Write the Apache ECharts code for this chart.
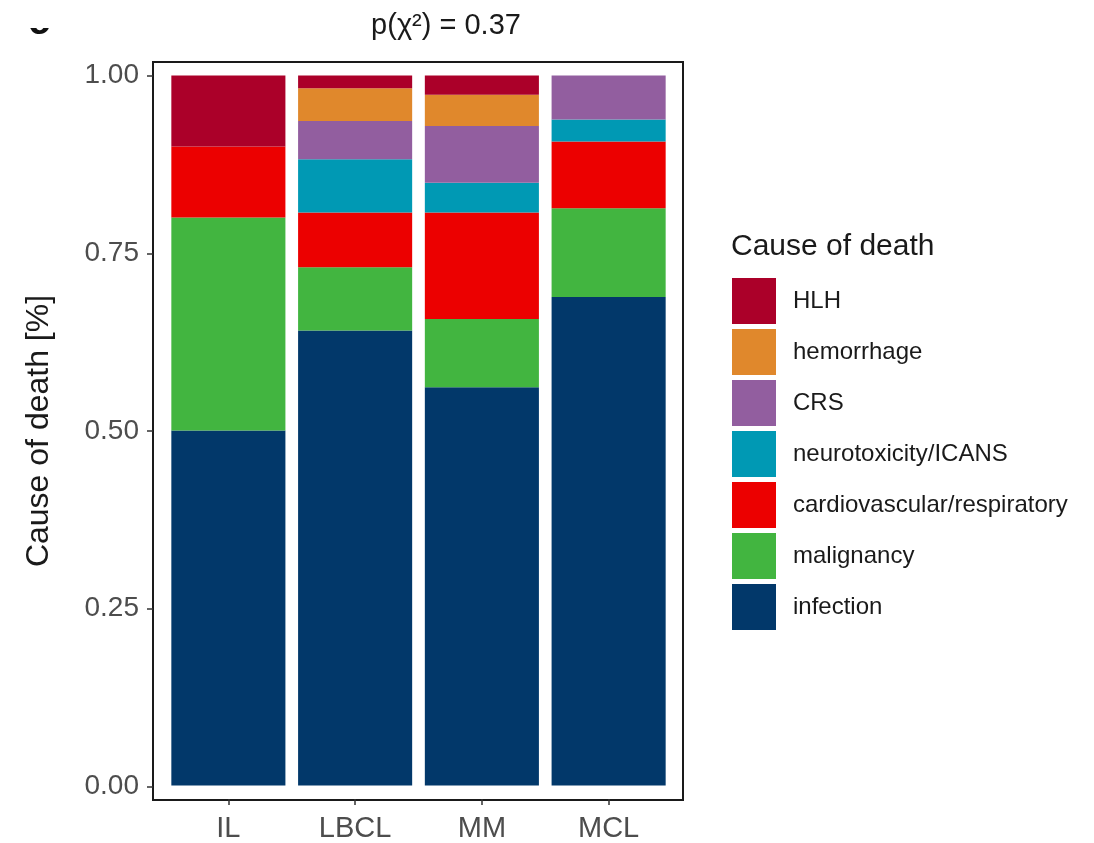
<!DOCTYPE html>
<html>
<head>
<meta charset="utf-8">
<script src="https://cdn.jsdelivr.net/npm/echarts@6/dist/echarts.min.js"></script>
<style>
html,body{margin:0;padding:0;background:#fff;}
#chart{width:1094px;height:843px;}
</style>
</head>
<body>
<div id="chart"></div>
<script>
// ---- data ----
var categories = ['IL', 'LBCL', 'MM', 'MCL'];
var causes = ['infection', 'malignancy', 'cardiovascular/respiratory', 'neurotoxicity/ICANS', 'CRS', 'hemorrhage', 'HLH'];
var legendOrder = ['HLH', 'hemorrhage', 'CRS', 'neurotoxicity/ICANS', 'cardiovascular/respiratory', 'malignancy', 'infection'];
var infection   = [0.500, 0.641, 0.561, 0.688];
var malignancy  = [0.300, 0.089, 0.096, 0.125];
var cardio      = [0.100, 0.077, 0.150, 0.094];
var neuro       = [0.000, 0.075, 0.042, 0.031];
var crs         = [0.000, 0.054, 0.080, 0.062];
var hemorrhage  = [0.000, 0.046, 0.044, 0.000];
var hlh         = [0.100, 0.018, 0.027, 0.000];
var yTicks = [0, 0.25, 0.5, 0.75, 1];
var titleText = 'p(\u03C7\u00B2) = 0.37';

var seriesValues = [infection, malignancy, cardio, neuro, crs, hemorrhage, hlh];
var colors = ['#02386A', '#42B540', '#EC0000', '#0099B4', '#925E9F', '#E0882C', '#AB0029'];

var FONT = '"Liberation Sans", Arial, Helvetica, sans-serif';
var Y_MIN = -0.019, Y_MAX = 1.019;

var series = causes.map(function (name, i) {
  return {
    name: name,
    type: 'bar',
    stack: 'total',
    xAxisIndex: 1,
    yAxisIndex: 1,
    barWidth: '90%',
    itemStyle: { color: colors[i] },
    emphasis: { disabled: true },
    data: seriesValues[i]
  };
});

var chart = echarts.init(document.getElementById('chart'), null, { renderer: 'canvas' });
chart.setOption({
  animation: false,
  backgroundColor: '#ffffff',
  textStyle: { fontFamily: FONT },
  grid: [
    { // panel frame
      left: 153, right: 411, top: 62, bottom: 43,
      show: true, borderColor: '#1a1a1a', borderWidth: 2, backgroundColor: 'transparent'
    },
    { // data area (ggplot-style 0.6 expansion on a discrete axis)
      left: 165, right: 422, top: 62, bottom: 43
    }
  ],
  xAxis: [
    {
      gridIndex: 0, type: 'value', min: 0, max: 1,
      splitLine: { show: false },
      axisLine: { show: true, onZero: false, lineStyle: { color: '#1a1a1a', width: 2 } },
      axisTick: { show: false }, axisLabel: { show: false }
    },
    {
      gridIndex: 1, type: 'category', data: categories,
      axisLine: { show: false, onZero: false },
      splitLine: { show: false },
      axisTick: { show: true, alignWithLabel: true, length: 6, lineStyle: { color: '#333', width: 1.5 } },
      axisLabel: { margin: 15, fontSize: 29, color: '#4d4d4d', fontFamily: FONT }
    }
  ],
  yAxis: [
    {
      gridIndex: 0, type: 'value', min: Y_MIN, max: Y_MAX,
      name: 'Cause of death [%]',
      nameLocation: 'middle',
      nameGap: 98,
      nameTextStyle: { fontSize: 32, color: '#1a1a1a', fontFamily: FONT },
      splitLine: { show: false },
      axisLine: { show: true, onZero: false, lineStyle: { color: '#1a1a1a', width: 2 } },
      axisTick: { show: true, customValues: yTicks, length: 6, lineStyle: { color: '#333', width: 1.5 } },
      axisLabel: {
        customValues: yTicks, margin: 14, fontSize: 28, color: '#4d4d4d', fontFamily: FONT,
        formatter: function (v) { return v.toFixed(2); }
      }
    },
    {
      gridIndex: 1, type: 'value', min: Y_MIN, max: Y_MAX, show: false,
      splitLine: { show: false }
    }
  ],
  legend: {
    data: legendOrder,
    orient: 'vertical',
    left: 732, top: 278,
    padding: 0,
    itemWidth: 44, itemHeight: 46, itemGap: 5,
    icon: 'rect',
    selectedMode: false,
    textStyle: { fontSize: 24, color: '#1a1a1a', fontFamily: FONT, padding: [2, 0, 0, 12] }
  },
  graphic: [
    { type: 'text', x: 731, y: 247, style: { text: 'Cause of death', fill: '#1a1a1a', font: '30px ' + FONT, textVerticalAlign: 'middle' } },
    { type: 'text', x: 446, y: 26, style: { text: titleText, fill: '#1a1a1a', font: '29px ' + FONT, textAlign: 'center', textVerticalAlign: 'middle' } },
    { type: 'text', x: 39, y: 43, z: 1, style: { text: 'c', fill: '#111', font: 'bold 40px ' + FONT, textAlign: 'center', textVerticalAlign: 'bottom' } },
    { type: 'rect', shape: { x: 0, y: 0, width: 70, height: 28 }, z: 2, style: { fill: '#ffffff' } }
  ],
  series: series
});
</script>
</body>
</html>
